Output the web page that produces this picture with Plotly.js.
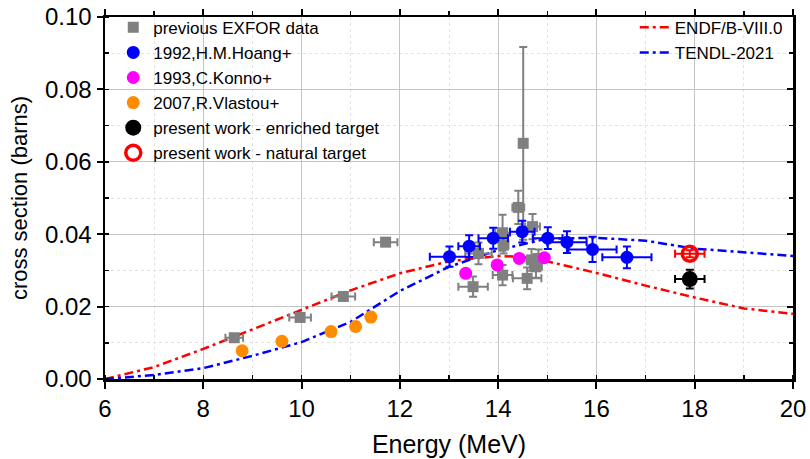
<!DOCTYPE html>
<html>
<head>
<meta charset="utf-8">
<script src="https://cdn.plot.ly/plotly-3.0.1.min.js"></script>
<style>html,body{margin:0;padding:0;background:#fff}#chart{width:810px;height:459px}</style>
</head>
<body>
<div id="chart"></div>
<script>
// ---- data ----
const exforX = [8.63, 9.97, 10.85, 11.71, 13.49, 13.60, 14.09, 14.09, 14.11, 14.41, 14.51, 14.59, 14.68, 14.70, 14.77, 14.82];
const exforY = [0.0114, 0.0170, 0.0228, 0.0378, 0.0255, 0.0347, 0.0287, 0.0404, 0.0370, 0.0474, 0.0651, 0.0278, 0.0329, 0.0421, 0.0310, 0.0333];
const exforXerr = [0.18, 0.22, 0.24, 0.24, 0.30, 0.27, 0.20, 0.15, 0.10, 0.12, 0.05, 0.29, 0.10, 0.15, 0.12, 0.10];
const exforYerr = [0.0004, 0.0004, 0.0004, 0.0004, 0.0028, 0.0030, 0.0028, 0.0050, 0.0023, 0.0046, 0.0266, 0.0030, 0.0030, 0.0035, 0.0030, 0.0025];

const hoangX = [13.01, 13.41, 13.90, 14.49, 15.01, 15.40, 15.92, 16.62];
const hoangY = [0.0338, 0.0367, 0.0389, 0.0407, 0.0389, 0.0378, 0.0358, 0.0336];
const hoangXerr = [0.40, 0.22, 0.30, 0.25, 0.30, 0.40, 0.49, 0.50];
const hoangYerr = [0.0028, 0.0030, 0.0029, 0.0030, 0.0030, 0.0030, 0.0035, 0.0030];

const konnoX = [13.34, 13.98, 14.43, 14.94];
const konnoY = [0.0292, 0.0315, 0.0333, 0.0335];

const vlastouX = [8.79, 9.60, 10.60, 11.10, 11.41];
const vlastouY = [0.0078, 0.0104, 0.0131, 0.0145, 0.0171];
const vlastouYerr = [0.0005, 0.0010, 0.0008, 0.0012, 0.0012];

const enrichedX = [17.90];
const enrichedY = [0.0276];
const enrichedXerr = [0.30];
const enrichedYerr = [0.0026];

const naturalX = [17.90];
const naturalY = [0.0346];
const naturalXerr = [0.30];
const naturalYerr = [0.0010];

const endfX = [6, 7, 8, 9, 10, 11, 12, 13, 14, 14.5, 15, 16, 17, 18, 19, 20];
const endfY = [0.0000, 0.0033, 0.0083, 0.0137, 0.0192, 0.0245, 0.0292, 0.0325, 0.0340, 0.0337, 0.0325, 0.0293, 0.0258, 0.0225, 0.0195, 0.0180];

const tendlX = [6, 7, 8, 9, 10, 11, 12, 13, 14, 15, 16, 17, 18, 19, 20];
const tendlY = [0.0000, 0.0011, 0.0030, 0.0064, 0.0102, 0.0158, 0.0243, 0.0310, 0.0356, 0.0388, 0.0390, 0.0382, 0.0360, 0.0350, 0.0340];

// ---- traces ----
const F = 'Liberation Sans, Arial, sans-serif';
const dashdot = '9px,4px,3px,4px';

const traces = [
  {x: endfX, y: endfY, mode: 'lines', name: 'ENDF/B-VIII.0', legend: 'legend2',
   line: {color: '#ff0000', width: 2.5, dash: dashdot}},
  {x: tendlX, y: tendlY, mode: 'lines', name: 'TENDL-2021', legend: 'legend2',
   line: {color: '#0000ff', width: 2.5, dash: dashdot}},
  {x: exforX, y: exforY, mode: 'markers', name: 'previous EXFOR data',
   marker: {symbol: 'square', size: 11, color: '#808080'},
   error_x: {type: 'data', array: exforXerr, visible: true, color: '#808080', thickness: 2, width: 4},
   error_y: {type: 'data', array: exforYerr, visible: true, color: '#808080', thickness: 2, width: 4}},
  {x: hoangX, y: hoangY, mode: 'markers', name: '1992,H.M.Hoang+',
   marker: {symbol: 'circle', size: 13, color: '#0000ff'},
   error_x: {type: 'data', array: hoangXerr, visible: true, color: '#0000ff', thickness: 2, width: 4},
   error_y: {type: 'data', array: hoangYerr, visible: true, color: '#0000ff', thickness: 2, width: 4}},
  {x: konnoX, y: konnoY, mode: 'markers', name: '1993,C.Konno+',
   marker: {symbol: 'circle', size: 13, color: '#ff00ff'}},
  {x: vlastouX, y: vlastouY, mode: 'markers', name: '2007,R.Vlastou+',
   marker: {symbol: 'circle', size: 13, color: '#ff8c00'},
   error_y: {type: 'data', array: vlastouYerr, visible: true, color: '#ff8c00', thickness: 2, width: 4}},
  {x: enrichedX, y: enrichedY, mode: 'markers', name: 'present work - enriched target',
   marker: {symbol: 'circle', size: 16, color: '#000000'},
   error_x: {type: 'data', array: enrichedXerr, visible: true, color: '#000000', thickness: 2, width: 4},
   error_y: {type: 'data', array: enrichedYerr, visible: true, color: '#000000', thickness: 2, width: 4}},
  {x: naturalX, y: naturalY, mode: 'markers', name: 'present work - natural target',
   marker: {symbol: 'circle-open', size: 15, color: '#ff0000', line: {width: 3.5, color: '#ff0000'}},
   error_x: {type: 'data', array: naturalXerr, visible: true, color: '#ff0000', thickness: 2, width: 4},
   error_y: {type: 'data', array: naturalYerr, visible: true, color: '#ff0000', thickness: 2, width: 4}},
  // helper trace so the top/right frame axes are drawn
  {x: [6], y: [0], xaxis: 'x2', yaxis: 'y2', mode: 'markers', marker: {opacity: 0},
   showlegend: false, hoverinfo: 'skip'}
];

const layout = {
  width: 810, height: 459,
  margin: {l: 105, r: 17, t: 17, b: 80, autoexpand: false},
  paper_bgcolor: '#fff', plot_bgcolor: '#fff',
  font: {family: F, color: '#000'},
  showlegend: true,
  xaxis: {
    range: [6, 20], dtick: 2, tick0: 6, showline: true, linecolor: '#000', linewidth: 2.5,
    ticks: 'outside', ticklen: 7, tickwidth: 2, tickcolor: '#000',
    tickfont: {size: 24, family: F}, zeroline: false,
    showgrid: true, gridcolor: '#c4c4c4', gridwidth: 1,
    minor: {dtick: 1, ticks: 'inside', ticklen: 4, tickwidth: 1.5, tickcolor: '#000',
            showgrid: true, gridcolor: '#e2e2e2', griddash: 'dot', gridwidth: 1},
    title: {text: 'Energy (MeV)', font: {size: 25, family: F}, standoff: 14}
  },
  yaxis: {
    range: [0, 0.1], dtick: 0.02, tick0: 0, tickformat: '.2f', showline: true, linecolor: '#000', linewidth: 2.5,
    ticks: 'outside', ticklen: 6, tickwidth: 2, tickcolor: '#000',
    tickfont: {size: 24, family: F}, zeroline: false,
    showgrid: true, gridcolor: '#c4c4c4', gridwidth: 1,
    minor: {dtick: 0.01, ticks: 'inside', ticklen: 4, tickwidth: 1.5, tickcolor: '#000',
            showgrid: true, gridcolor: '#e2e2e2', griddash: 'dot', gridwidth: 1},
    title: {text: 'cross section (barns)', font: {size: 22, family: F}, standoff: 12}
  },
  xaxis2: {
    overlaying: 'x', side: 'top', anchor: 'y2', range: [6, 20], dtick: 2, tick0: 6,
    showline: true, linecolor: '#000', linewidth: 2.5, showticklabels: false,
    ticks: 'outside', ticklen: 6, tickwidth: 2, tickcolor: '#000', showgrid: false, zeroline: false,
    minor: {dtick: 1, ticks: 'outside', ticklen: 4, tickwidth: 1.5, tickcolor: '#000', showgrid: false}
  },
  yaxis2: {
    overlaying: 'y', side: 'right', anchor: 'x2', range: [0, 0.1], dtick: 0.02, tick0: 0,
    showline: true, linecolor: '#000', linewidth: 2.5, showticklabels: false,
    ticks: 'inside', ticklen: 6, tickwidth: 2, tickcolor: '#000', showgrid: false, zeroline: false,
    minor: {dtick: 0.01, ticks: 'inside', ticklen: 4, tickwidth: 1.5, tickcolor: '#000', showgrid: false}
  },
  legend: {
    x: 0.012, y: 1.02, xanchor: 'left', yanchor: 'top', bgcolor: 'rgba(0,0,0,0)', borderwidth: 0,
    font: {size: 17, family: F}, tracegroupgap: 0
  },
  legend2: {
    x: 0.77, y: 1.02, xanchor: 'left', yanchor: 'top', bgcolor: 'rgba(0,0,0,0)', borderwidth: 0,
    font: {size: 17, family: F}
  }
};

Plotly.newPlot('chart', traces, layout, {staticPlot: true, displayModeBar: false});
</script>
</body>
</html>
